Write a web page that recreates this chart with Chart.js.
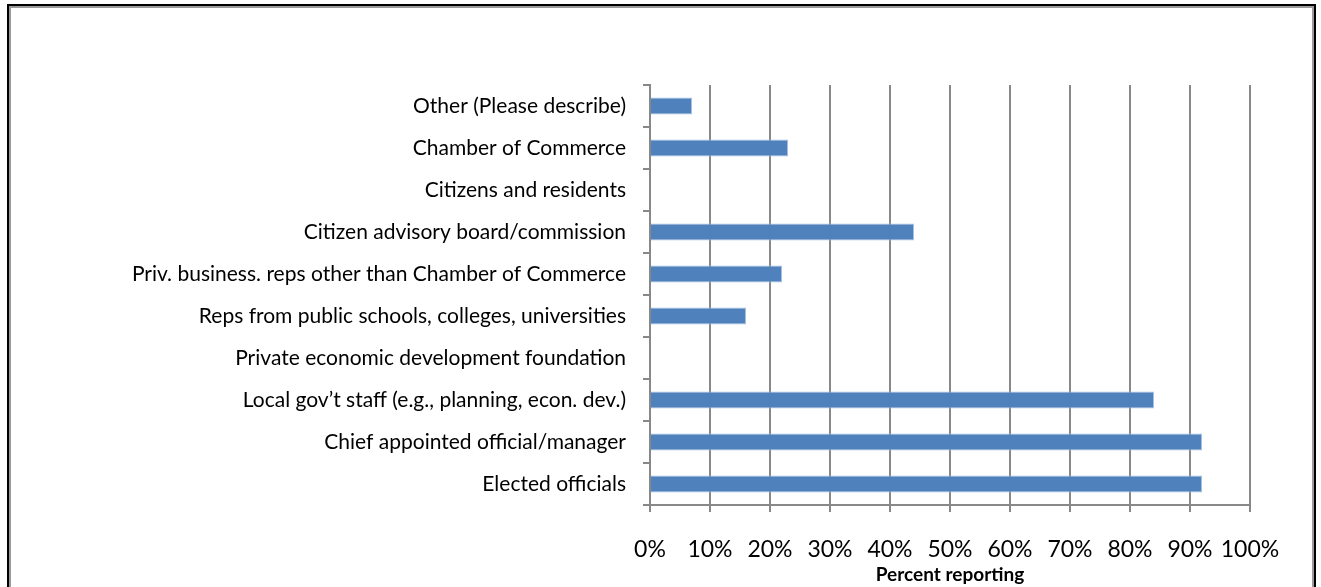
<!DOCTYPE html>
<html>
<head>
<meta charset="utf-8">
<script src="https://cdn.jsdelivr.net/npm/chart.js@4/dist/chart.umd.min.js"></script>
<style>
  html, body { margin: 0; padding: 0; background: #fff; width: 1321px; height: 587px; overflow: hidden; }
  #frame { position: absolute; left: 7px; top: 4px; width: 1305px; height: 600px; border: 2px solid #000; border-bottom: none; box-sizing: content-box; }
  #inner { position: absolute; left: 0; top: 0; right: 0; bottom: 0; border: 2px solid #9a9a9a; border-bottom: none; }
  #c { position: absolute; left: 0; top: 0; }
</style>
</head>
<body>
<div id="frame"><div id="inner"></div></div>
<canvas id="c" width="1321" height="587"></canvas>
<script>
const categories = [
  "Other (Please describe)",
  "Chamber of Commerce",
  "Citizens and residents",
  "Citizen advisory board/commission",
  "Priv. business. reps other than Chamber of Commerce",
  "Reps from public schools, colleges, universities",
  "Private economic development foundation",
  "Local gov\u2019t staff (e.g., planning, econ. dev.)",
  "Chief appointed official/manager",
  "Elected officials"
];
const percentReporting = [7, 23, 0, 44, 22, 16, 0, 84, 92, 92];
const xTickValues = [0, 10, 20, 30, 40, 50, 60, 70, 80, 90, 100];
const xAxisTitle = "Percent reporting";

const FONT = "Lato, 'Open Sans', sans-serif";
const GRID = "#888888";

new Chart(document.getElementById('c'), {
  type: 'bar',
  data: {
    labels: categories,
    datasets: [{
      data: percentReporting,
      backgroundColor: '#4F81BD',
      borderColor: '#a7bfe0',
      borderWidth: 1,
      barPercentage: 0.4,
      categoryPercentage: 1.0
    }]
  },
  options: {
    indexAxis: 'y',
    responsive: false,
    animation: false,
    layout: { padding: { top: 85, left: 0, right: 71, bottom: 0 } },
    plugins: { legend: { display: false }, tooltip: { enabled: false } },
    scales: {
      x: {
        min: 0, max: 100,
        afterBuildTicks: (s) => { s.ticks = xTickValues.map(v => ({ value: v })); },
        afterFit: (s) => { s.height = 82; },
        grid: { color: GRID, lineWidth: 2, drawTicks: true, tickLength: 7, tickColor: GRID },
        border: { display: true, color: GRID, width: 2 },
        ticks: { color: '#000', font: { family: FONT, size: 23 }, padding: 24, callback: (v) => v + '%', maxRotation: 0, autoSkip: false },
        title: { display: true, text: xAxisTitle, color: '#000', font: { family: FONT, size: 19, weight: 'bold' }, padding: { top: 0, bottom: 1 } }
      },
      y: {
        afterFit: (s) => { s.width = 650; },
        grid: { drawOnChartArea: false, drawTicks: true, tickLength: 7, color: GRID, lineWidth: 2, offset: true },
        border: { display: true, color: GRID, width: 2 },
        ticks: { color: '#000', font: { family: FONT, size: 21 }, padding: 17, autoSkip: false }
      }
    }
  }
});
</script>
</body>
</html>
